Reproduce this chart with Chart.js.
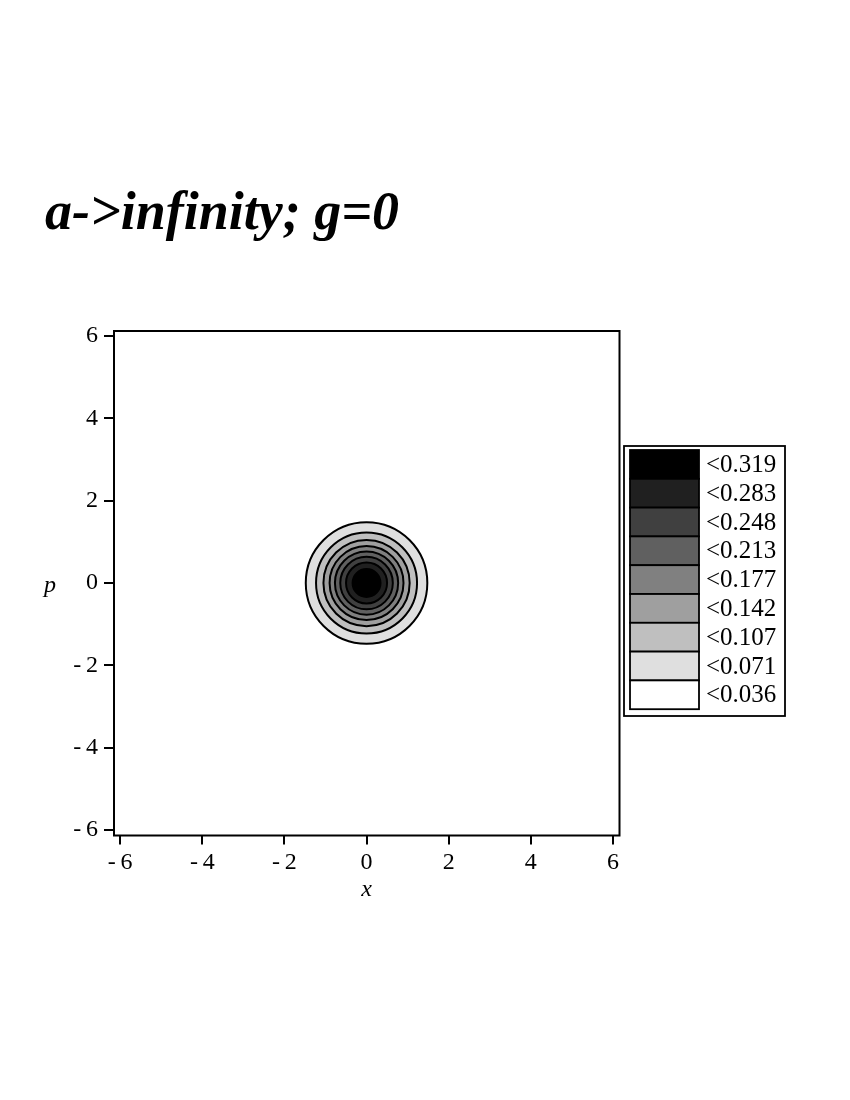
<!DOCTYPE html>
<html><head><meta charset="utf-8">
<script src="https://cdn.jsdelivr.net/npm/chart.js@4.4.0/dist/chart.umd.min.js"></script>
<style>html,body{margin:0;padding:0;background:#fff}#wrap{width:850px;height:1100px;position:relative}</style>
</head><body><div id="wrap"><canvas id="c" width="850" height="1100"></canvas></div>
<script>
const TITLE = 'a->infinity; g=0';
const X_LABEL = 'x';
const Y_LABEL = 'p';
const tickValues = [-6, -4, -2, 0, 2, 4, 6];
// contour line levels and their radii (in x/p units)
const contourLevels = [0.036, 0.071, 0.107, 0.142, 0.177, 0.213, 0.248, 0.283];
const contourRadii = [1.48, 1.23, 1.05, 0.90, 0.77, 0.64, 0.50, 0.34];
// bands, low to high
const bandUpper = [0.036, 0.071, 0.107, 0.142, 0.177, 0.213, 0.248, 0.283, 0.319];
const bandColors = ['#ffffff', '#dfdfdf', '#bfbfbf', '#9f9f9f', '#808080', '#606060', '#404040', '#202020', '#000000'];
const bandLabels = bandUpper.map(v => '<' + v.toFixed(3));

const SERIF = '"Liberation Serif","Times New Roman",Times,serif';
const fmt = v => (v < 0 ? '-\u2009' + Math.abs(v) : String(v));

function pixelRadius(chart, r) {
  const s = chart.scales.x;
  if (!s) return 0;
  const d = Math.abs(s.getPixelForValue(r) - s.getPixelForValue(0));
  return isFinite(d) ? d : 0;
}

const datasets = contourRadii.map((r, k) => ({
  label: 'level ' + contourLevels[k],
  data: [{ x: 0, y: 0 }],
  showLine: false,
  pointStyle: 'circle',
  pointBackgroundColor: bandColors[k + 1],
  pointBorderColor: '#000',
  pointBorderWidth: 2,
  pointRadius: ctx => pixelRadius(ctx.chart, r),
  pointHoverRadius: ctx => pixelRadius(ctx.chart, r),
  pointHitRadius: 0,
  order: contourRadii.length - k
}));

const decor = {
  id: 'decor',
  afterDraw(chart) {
    const ctx = chart.ctx;
    const a = chart.chartArea;
    ctx.save();
    // plot frame
    ctx.strokeStyle = '#000';
    ctx.lineWidth = 2;
    ctx.strokeRect(a.left, a.top, a.right - a.left, a.bottom - a.top);
    // title
    ctx.fillStyle = '#000';
    ctx.textAlign = 'left';
    ctx.textBaseline = 'alphabetic';
    ctx.font = 'italic bold 54px ' + SERIF;
    ctx.fillText(TITLE, 45, 229);
    // axis labels
    ctx.font = 'italic 24px ' + SERIF;
    ctx.textAlign = 'center';
    ctx.fillText(X_LABEL, chart.scales.x.getPixelForValue(0), 896);
    ctx.fillText(Y_LABEL, 50, 592);
    // legend
    const lx = 624, ly = 446, lw = 161, lh = 270;
    ctx.lineWidth = 1.8;
    ctx.strokeRect(lx, ly, lw, lh);
    const sx = 630, sw = 69, sy = 450, sh = 28.8;
    ctx.font = '25px ' + SERIF;
    ctx.textAlign = 'left';
    ctx.textBaseline = 'middle';
    const n = bandLabels.length;
    for (let i = 0; i < n; i++) {
      const b = n - 1 - i;
      const y = sy + i * sh;
      ctx.fillStyle = bandColors[b];
      ctx.fillRect(sx, y, sw, sh);
      ctx.strokeStyle = '#000';
      ctx.strokeRect(sx, y, sw, sh);
      ctx.fillStyle = '#000';
      ctx.fillText(bandLabels[b], 706, y + sh / 2 + 1);
    }
    ctx.restore();
  }
};

const tickOpts = {
  font: { family: SERIF, size: 24 },
  color: '#000',
  maxRotation: 0,
  autoSkip: false,
  callback: fmt
};

new Chart(document.getElementById('c'), {
  type: 'scatter',
  data: { datasets },
  options: {
    responsive: false,
    animation: false,
    events: [],
    layout: { padding: { top: 331, left: 0, right: 230.5, bottom: 0 } },
    plugins: { legend: { display: false }, tooltip: { enabled: false }, title: { display: false } },
    scales: {
      x: {
        type: 'linear', min: -6.15, max: 6.16,
        afterBuildTicks: s => { s.ticks = tickValues.map(v => ({ value: v })); },
        afterFit: s => { s.height = 1100 - 835.5; },
        grid: { drawOnChartArea: false, drawTicks: true, tickLength: 9, color: '#000', lineWidth: 2 },
        border: { display: false },
        ticks: Object.assign({ padding: 4 }, tickOpts)
      },
      y: {
        type: 'linear', min: -6.13, max: 6.12,
        afterBuildTicks: s => { s.ticks = tickValues.map(v => ({ value: v })); },
        afterFit: s => { s.width = 114; },
        grid: { drawOnChartArea: false, drawTicks: true, tickLength: 10, color: '#000', lineWidth: 2 },
        border: { display: false },
        ticks: Object.assign({ padding: 6 }, tickOpts)
      }
    }
  },
  plugins: [decor]
});
</script>
</body></html>
